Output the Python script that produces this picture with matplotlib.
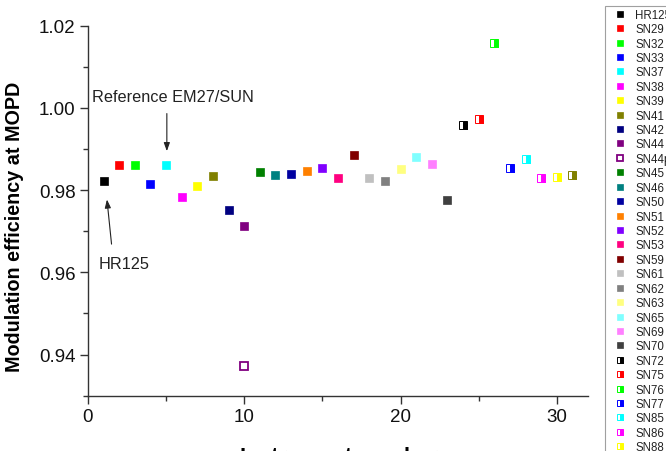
# coding: UTF-8
import matplotlib
matplotlib.use('Agg')
import matplotlib.pyplot as plt

plt.rcParams['font.family'] = ['Liberation Sans', 'DejaVu Sans']

# 測器ごとのデータ (凡例の順番)
labels = ['HR125', 'SN29', 'SN32', 'SN33', 'SN37', 'SN38', 'SN39', 'SN41', 'SN42',
          'SN44', 'SN44p', 'SN45', 'SN46', 'SN50', 'SN51', 'SN52', 'SN53', 'SN59',
          'SN61', 'SN62', 'SN63', 'SN65', 'SN69', 'SN70', 'SN72', 'SN75', 'SN76',
          'SN77', 'SN85', 'SN86', 'SN88', 'SN41']
instrument = [1, 2, 3, 4, 5, 6, 7, 8, 9, 10, 10, 11, 12, 13, 14, 15, 16, 17,
              18, 19, 20, 21, 22, 23, 24, 25, 26, 27, 28, 29, 30, 31]
mopd_eff = [0.9823, 0.9862, 0.9862, 0.9814, 0.9862, 0.9784, 0.9810, 0.9834, 0.9751,
            0.9713, 0.9373, 0.9844, 0.9836, 0.9839, 0.9846, 0.9854, 0.9829, 0.9885,
            0.9829, 0.9822, 0.9852, 0.9881, 0.9863, 0.9775, 0.9958, 0.9972, 1.0159,
            0.9854, 0.9875, 0.9829, 0.9831, 0.9837]
colors = ['#000000', '#FF0000', '#00FF00', '#0000FF', '#00FFFF', '#FF00FF', '#FFFF00',
          '#808000', '#000080', '#800080', '#800080', '#008000', '#008080', '#0000A0',
          '#FF8000', '#8000FF', '#FF0080', '#800000', '#C0C0C0', '#808080', '#FFFF80',
          '#80FFFF', '#FF80FF', '#404040', '#000000', '#FF0000', '#00FF00', '#0000FF',
          '#00FFFF', '#FF00FF', '#FFFF00', '#808000']
# 'full' = 塗りつぶし, 'none' = 中抜き, 'right' = 半分塗り
fills = ['full'] * 10 + ['none'] + ['full'] * 13 + ['right'] * 8

fig = plt.figure(figsize=(6.66, 4.52), dpi=100)
ax = fig.add_axes([0.132, 0.1223, 0.751, 0.8187])

for lab, x, y, c, f in zip(labels, instrument, mopd_eff, colors, fills):
    if f == 'none':
        ax.plot(x, y, 's', ms=5.2, mfc='white', mec=c, mew=1.3, label=lab)
    elif f == 'right':
        ax.plot(x, y, 's', ms=5.6, fillstyle='right', mfc=c, mfcalt='white',
                mec=c, mew=0.7, label=lab)
    else:
        ax.plot(x, y, 's', ms=5.6, color=c, mec=c, mew=0.5, label=lab)

ax.set_xlim(0, 32)
ax.set_ylim(0.93, 1.02)
ax.set_xticks([0, 10, 20, 30])
ax.set_xticks([5, 15, 25], minor=True)
ax.set_yticks([0.94, 0.96, 0.98, 1.00, 1.02])
ax.set_yticks([0.93, 0.95, 0.97, 0.99, 1.01], minor=True)
ax.set_yticklabels(['0.94', '0.96', '0.98', '1.00', '1.02'])

for s in ['top', 'right']:
    ax.spines[s].set_visible(False)
for s in ['left', 'bottom']:
    ax.spines[s].set_color('#333333')
    ax.spines[s].set_linewidth(1.0)
ax.tick_params(which='major', direction='out', length=6, width=1.0,
               labelsize=13.5, pad=3, color='#333333', labelcolor='#111111')
ax.tick_params(which='minor', direction='out', length=3.5, width=1.0, color='#333333')

ax.set_ylabel('Modulation efficiency at MOPD', fontsize=14.2, fontweight='bold')
ax.yaxis.set_label_coords(-0.128, 0.46)
ax.set_xlabel('Instrument number', fontsize=15.6, fontweight='bold')
ax.xaxis.set_label_coords(0.502, -0.137)

# 注釈
ax.text(0.24, 1.0018, 'Reference EM27/SUN', fontsize=11.7, color='#222222')
ax.annotate('', xy=(5.05, 0.9888), xytext=(5.05, 0.9993),
            arrowprops=dict(arrowstyle='-|>,head_length=0.5,head_width=0.18',
                            color='#222222', lw=0.8))
ax.text(0.69, 0.9610, 'HR125', fontsize=11.7, color='#222222')
ax.annotate('', xy=(1.2, 0.9784), xytext=(1.53, 0.9662),
            arrowprops=dict(arrowstyle='-|>,head_length=0.5,head_width=0.18',
                            color='#222222', lw=0.8))

leg = fig.legend(loc='upper left', bbox_to_anchor=(604.5 / 666, 1 - 6.7 / 452),
                 borderaxespad=0, fontsize=8.3, numpoints=1, markerscale=0.85,
                 handlelength=2.2, handletextpad=0.2, labelspacing=0.21,
                 borderpad=0.26, fancybox=False, frameon=True)
leg.get_frame().set_edgecolor('#888888')
leg.get_frame().set_linewidth(0.8)
for t in leg.get_texts():
    t.set_color('#222222')

fig.savefig('out.png', dpi=100)
